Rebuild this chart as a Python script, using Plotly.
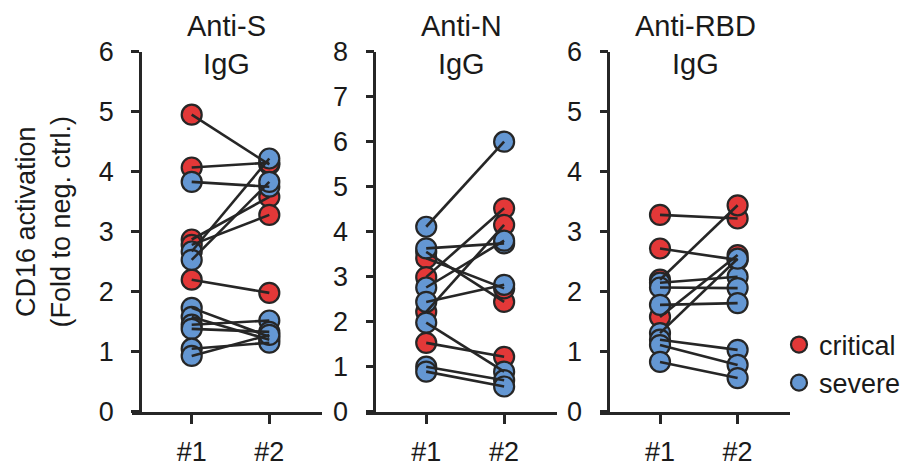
import plotly.graph_objects as go

# ---------------- data ----------------
TIMEPOINTS = ["#1", "#2"]
PANEL_TITLES = ["Anti-S<br>IgG", "Anti-N<br>IgG", "Anti-RBD<br>IgG"]
Y_MAX = [6, 8, 6]
GROUPS = ["critical", "severe"]

# Anti-S IgG
s_crit_t1 = [4.95, 4.07, 2.87, 2.78, 2.20]
s_crit_t2 = [4.12, 4.15, 3.58, 3.28, 1.98]
s_sev_t1 = [3.83, 2.67, 2.53, 1.73, 1.58, 1.45, 1.38, 1.05, 0.93]
s_sev_t2 = [3.75, 4.22, 3.83, 1.25, 1.20, 1.52, 1.33, 1.15, 1.28]

# Anti-N IgG
n_crit_t1 = [3.55, 3.41, 2.99, 2.22, 1.53]
n_crit_t2 = [2.44, 2.74, 4.52, 4.15, 1.22]
n_sev_t1 = [4.11, 3.63, 2.76, 2.44, 1.98, 1.00, 0.89]
n_sev_t2 = [6.00, 3.74, 3.80, 2.82, 0.89, 0.70, 0.56]

# Anti-RBD IgG
r_crit_t1 = [3.28, 2.72, 2.20, 1.58]
r_crit_t2 = [3.22, 2.53, 3.44, 2.61]
r_sev_t1 = [2.15, 2.07, 1.78, 1.31, 1.20, 1.11, 0.83]
r_sev_t2 = [2.25, 2.06, 1.81, 2.55, 1.03, 0.78, 0.56]

PANELS = [
    (s_crit_t1, s_crit_t2, s_sev_t1, s_sev_t2),
    (n_crit_t1, n_crit_t2, n_sev_t1, n_sev_t2),
    (r_crit_t1, r_crit_t2, r_sev_t1, r_sev_t2),
]

# ---------------- style ----------------
OFF = 8                      # page body margin around the figure
FW, FH = 915 - OFF, 468 - OFF
RED = "#E33838"
BLUE = "#6497D3"
INK = "#262626"
FONT = "Arial, Liberation Sans, Helvetica, sans-serif"
TEXT = "#1a1a1a"


def px_x(p):
    return (p - OFF) / FW


def px_y(p):
    return 1 - (p - OFF) / FH


# screen-pixel geometry of plot areas
X_DOM_PX = [(131.7, 321.7), (366.0, 556.7), (600.0, 790.0)]
Y_TOP_PX, Y_BOT_PX = 51.7, 411.7
YAXIS_SHIFT_PX = 8.3

fig = go.Figure()

for i, (ct1, ct2, st1, st2) in enumerate(PANELS):
    n = i + 1
    xa = "x" if n == 1 else f"x{n}"
    ya = "y" if n == 1 else f"y{n}"
    x1, x2 = 1, 2
    # markers first (lines are drawn on top of the circles)
    for grp, t1, t2, col in (("critical", ct1, ct2, RED), ("severe", st1, st2, BLUE)):
        fig.add_trace(go.Scatter(
            x=[x1] * len(t1) + [x2] * len(t2),
            y=list(t1) + list(t2),
            mode="markers",
            marker=dict(size=20, color=col, line=dict(color=INK, width=2.2)),
            name=grp, showlegend=(n == 1),
            xaxis=xa, yaxis=ya, cliponaxis=False, hoverinfo="skip",
        ))
    # connecting lines for each subject
    lx, ly = [], []
    for t1, t2 in ((ct1, ct2), (st1, st2)):
        for a, b in zip(t1, t2):
            lx += [x1, x2, None]
            ly += [a, b, None]
    fig.add_trace(go.Scatter(
        x=lx, y=ly, mode="lines",
        line=dict(color=INK, width=2.6),
        showlegend=False, xaxis=xa, yaxis=ya, cliponaxis=False, hoverinfo="skip",
    ))

layout = dict(
    template="none",
    width=FW, height=FH,
    margin=dict(l=0, r=0, t=0, b=0, autoexpand=False),
    paper_bgcolor="white", plot_bgcolor="white",
    font=dict(family=FONT, color=TEXT, size=27),
    showlegend=True,
    legend=dict(
        x=px_x(779.0), y=px_y(320.5), xanchor="left", yanchor="top",
        font=dict(size=27, family=FONT, color=TEXT),
        itemsizing="trace", tracegroupgap=0,
        bgcolor="rgba(0,0,0,0)", borderwidth=0,
    ),
)

annotations = []
for i in range(3):
    n = i + 1
    xk = "xaxis" if n == 1 else f"xaxis{n}"
    yk = "yaxis" if n == 1 else f"yaxis{n}"
    x0, x1p = X_DOM_PX[i]
    layout[xk] = dict(
        domain=[px_x(x0), px_x(x1p)],
        anchor="y" if n == 1 else f"y{n}",
        range=[0.227, 2.675],
        tickvals=[1, 2], ticktext=TIMEPOINTS,
        showline=True, linecolor=INK, linewidth=2.6,
        ticks="outside", ticklen=9, tickwidth=2.6, tickcolor=INK,
        showgrid=False, zeroline=False, automargin=False,
        tickfont=dict(size=27, family=FONT, color=TEXT),
        ticklabelstandoff=5,
        fixedrange=True,
    )
    ymax = Y_MAX[i]
    layout[yk] = dict(
        domain=[px_y(Y_BOT_PX), px_y(Y_TOP_PX)],
        anchor="free", position=px_x(x0 + YAXIS_SHIFT_PX),
        range=[0, ymax], dtick=1, tick0=0,
        showline=True, linecolor=INK, linewidth=2.6,
        ticks="outside", ticklen=8, tickwidth=2.6, tickcolor=INK,
        showgrid=False, zeroline=False, automargin=False,
        tickfont=dict(size=27, family=FONT, color=TEXT),
        ticklabelstandoff=12,
        fixedrange=True,
    )
    annotations.append(dict(
        text=PANEL_TITLES[i], xref="paper", yref="paper",
        x=px_x((x0 + x1p) / 2), y=px_y(45),
        xanchor="center", yanchor="middle", showarrow=False,
        font=dict(size=29, family=FONT, color=TEXT),
    ))

annotations.append(dict(
    text="CD16 activation<br>(Fold to neg. ctrl.)",
    xref="paper", yref="paper", x=px_x(42.5), y=px_y(222),
    xanchor="center", yanchor="middle", textangle=-90, showarrow=False,
    font=dict(size=27, family=FONT, color=TEXT),
))

layout["annotations"] = annotations
fig.update_layout(**layout)

fig.write_html("out.html")
